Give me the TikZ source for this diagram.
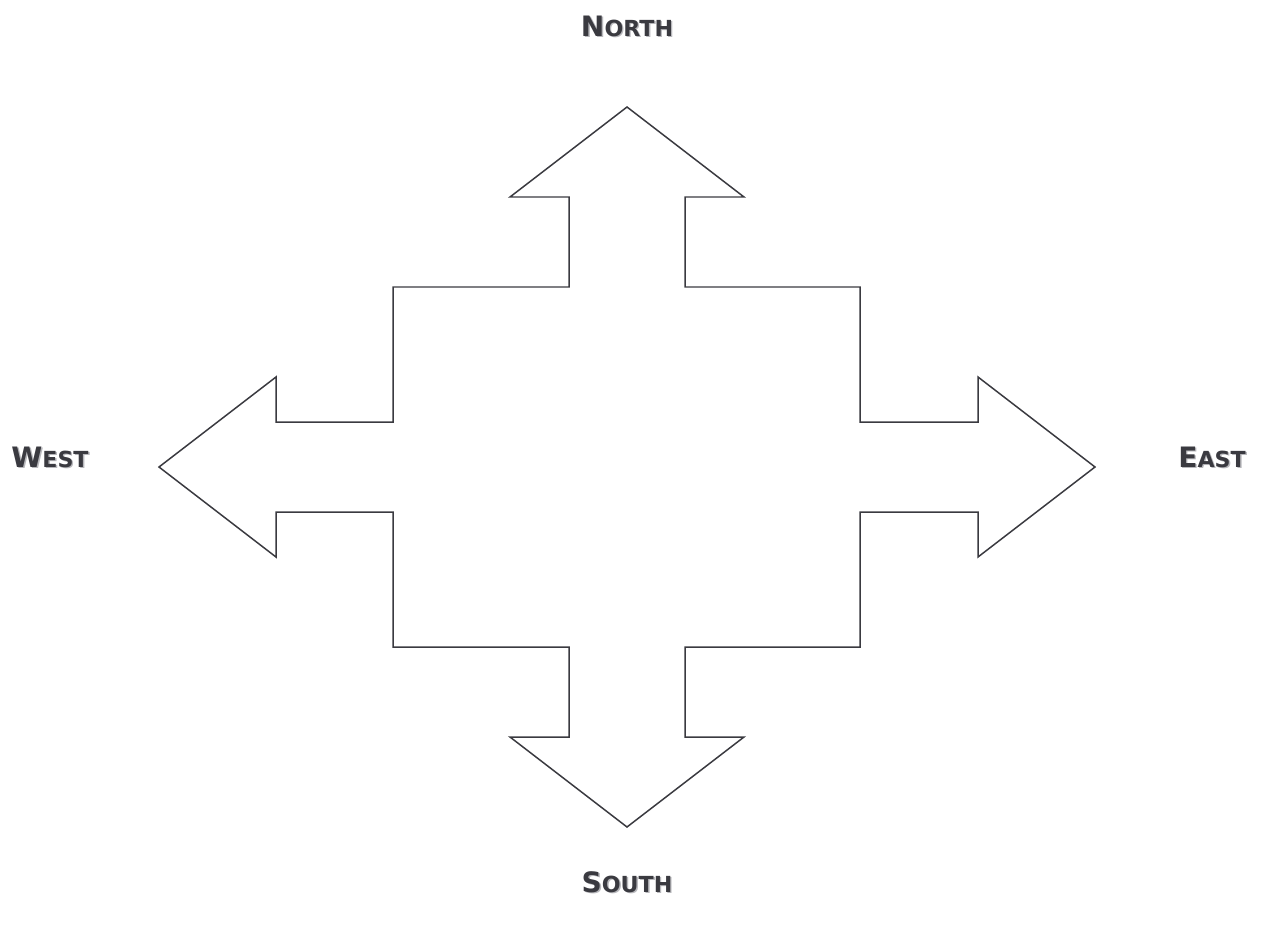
\documentclass[tikz,border=0pt]{standalone}
\usepackage{fontspec}
\setmainfont{DejaVu Sans}
\usepackage{tikz}

\definecolor{inkgray}{HTML}{3A3A40}
\definecolor{shadowgray}{HTML}{B8B8BC}
\newcommand{\capword}[2]{{\fontsize{16}{18}\selectfont #1}{\fontsize{12.6}{14}\selectfont #2}}
\newcommand{\shadowed}[1]{{\color{shadowgray}\rlap{\hspace{0.8pt}\raisebox{-0.8pt}{#1}}}#1}
\tikzset{
  compass/.style={font=\bfseries,text=inkgray,inner sep=0pt},
  outline/.style={draw=inkgray,line width=0.85pt,line join=miter}
}

\begin{document}
\begin{tikzpicture}[x=0.02cm,y=-0.02cm]
  \useasboundingbox (0,0) rectangle (1261,926);
  \draw[outline] (627,107) -- (744,197) -- (685,197) -- (685,287) -- (860,287)
    -- (860,422) -- (978,422) -- (978,377) -- (1095,467) -- (978,557) -- (978,512)
    -- (860,512) -- (860,647) -- (685,647) -- (685,737) -- (744,737) -- (627,827)
    -- (510,737) -- (569,737) -- (569,647) -- (393,647) -- (393,512) -- (276,512)
    -- (276,557) -- (159,467) -- (276,377) -- (276,422) -- (393,422) -- (393,287)
    -- (569,287) -- (569,197) -- (510,197) -- cycle;
  \node[compass] (north) at (627,27)   {\shadowed{\capword{N}{ORTH}}};
  \node[compass] (south) at (627,883)  {\shadowed{\capword{S}{OUTH}}};
  \node[compass] (west)  at (50,458)   {\shadowed{\capword{W}{EST}}};
  \node[compass] (east)  at (1212,458) {\shadowed{\capword{E}{AST}}};
\end{tikzpicture}
\end{document}
